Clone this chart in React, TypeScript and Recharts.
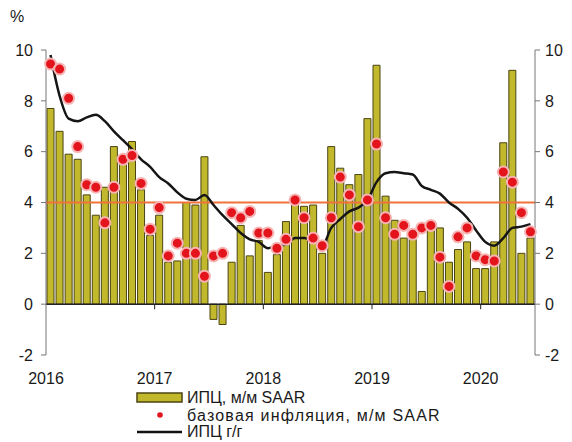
import React from "react";
import {
  ComposedChart,
  Bar,
  Line,
  Scatter,
  XAxis,
  YAxis,
  ReferenceLine,
  Legend,
} from "recharts";

// monthly, Jan 2016 .. Jun 2020
const yearStarts = [0, 12, 24, 36, 48];
const yearLabels = ["2016", "2017", "2018", "2019", "2020"];
const valueTicks = [-2, 0, 2, 4, 6, 8, 10];

// ИПЦ, м/м SAAR
const cpiMoM = [
  7.7, 6.8, 5.9, 5.7, 4.3, 3.5, 4.6, 6.2, 5.8, 6.4, 4.5, 2.7,
  3.5, 1.65, 1.7, 4.0, 3.9, 5.8, -0.6, -0.8, 1.65, 3.1, 1.9, 2.5,
  1.25, 1.95, 3.25, 3.95, 3.85, 3.9, 2.0, 6.2, 5.35, 4.7, 5.1, 7.3,
  9.4, 4.25, 3.3, 2.6, 2.55, 0.5, 2.9, 3.0, 1.65, 2.15, 2.45, 1.4,
  1.4, 2.45, 6.35, 9.2, 2.0, 2.6,
];

// базовая инфляция, м/м SAAR
const coreMoM = [
  9.45, 9.25, 8.1, 6.2, 4.7, 4.6, 3.2, 4.6, 5.7, 5.85, 4.75, 2.95,
  3.8, 1.9, 2.4, 2.0, 2.0, 1.1, 1.9, 2.0, 3.6, 3.4, 3.65, 2.8,
  2.8, 2.2, 2.55, 4.1, 3.4, 2.6, 2.3, 3.4, 5.0, 4.3, 3.05, 4.1,
  6.3, 3.4, 2.75, 3.1, 2.75, 3.0, 3.1, 1.85, 0.7, 2.65, 3.0, 1.9,
  1.75, 1.7, 5.2, 4.8, 3.6, 2.85,
];

// ИПЦ г/г
const cpiYoY = [
  9.8, 8.2, 7.3, 7.2, 7.35, 7.45, 7.2, 6.8, 6.45, 6.1, 5.7, 5.4,
  5.0, 4.75, 4.4, 4.15, 4.1, 4.3, 3.9, 3.5, 3.15, 2.8, 2.55, 2.45,
  2.2, 2.3, 2.35, 2.6, 2.6, 2.5, 2.3, 3.0, 3.35, 3.65, 3.8, 4.1,
  4.8, 5.15, 5.2, 5.15, 5.1, 4.65, 4.5, 4.35, 4.0, 3.75, 3.4, 2.9,
  2.45, 2.3, 2.6, 3.0, 3.05, 3.15,
];

const data = cpiMoM.map((v, i) => ({
  t: i + 0.5,
  cpi: v,
  core: coreMoM[i],
  yoy: cpiYoY[i],
}));

const BAR_FILL = "#c2b82c";
const BAR_STROKE = "#4a4414";
const DOT_FILL = "#e4141c";
const DOT_STROKE = "#f6b4b4";
const FONT = "'Liberation Sans', Arial, sans-serif";
const tickStyle = { fontSize: 16, fill: "#1a1a1a", fontFamily: FONT };

const RedDot = (props: any) => {
  const { cx, cy } = props;
  if (cx == null || cy == null) return null;
  return <circle cx={cx} cy={cy} r={5.5} fill={DOT_FILL} stroke={DOT_STROKE} strokeWidth={2} />;
};

const ChartLegend = () => (
  <svg
    width={340}
    height={48}
    style={{ fontFamily: FONT, fontSize: 16, display: "block", overflow: "visible" }}
  >
    <rect x={1} y={3} width={45} height={9} fill={BAR_FILL} stroke={BAR_STROKE} strokeWidth={1.5} />
    <text x={51} y={13} fill="#1a1a1a">ИПЦ, м/м SAAR</text>
    <circle cx={24} cy={25} r={2.8} fill={DOT_FILL} />
    <text x={51} y={31} fill="#1a1a1a" letterSpacing={1.2}>базовая инфляция, м/м SAAR</text>
    <line x1={1} x2={46} y1={42} y2={42} stroke="#111" strokeWidth={2.5} />
    <text x={51} y={47} fill="#1a1a1a">ИПЦ г/г</text>
  </svg>
);

export default function App() {
  return (
    <div style={{ position: "absolute", left: 0, top: 0, width: 572, height: 442, background: "#fff", overflow: "hidden" }}>
      <ComposedChart
        width={572}
        height={442}
        data={data}
        margin={{ top: 50, right: 0, left: 0, bottom: 57 }}
      >
        <XAxis
          dataKey="t"
          type="number"
          domain={[0, 54]}
          ticks={yearStarts}
          tickFormatter={(v: number) => yearLabels[yearStarts.indexOf(v)]}
          axisLine={false}
          tickLine={false}
          tickMargin={12}
          height={30}
          tick={tickStyle}
          interval={0}
        />
        <YAxis
          yAxisId="left"
          domain={[-2, 10]}
          ticks={valueTicks}
          width={46}
          tick={tickStyle}
          tickSize={5}
          tickMargin={8}
          stroke="#777"
          allowDataOverflow
          label={{ value: "%", position: "top", offset: 28, dx: -6, style: tickStyle }}
        />
        <YAxis
          yAxisId="right"
          orientation="right"
          domain={[-2, 10]}
          ticks={valueTicks}
          width={37}
          tick={tickStyle}
          tickSize={5}
          tickMargin={5}
          stroke="#777"
          allowDataOverflow
        />
        <Bar
          yAxisId="left"
          dataKey="cpi"
          barSize={7}
          fill={BAR_FILL}
          stroke={BAR_STROKE}
          strokeWidth={1}
          isAnimationActive={false}
        />
        <ReferenceLine yAxisId="left" y={4} stroke="#f0723a" strokeWidth={2} />
        <ReferenceLine yAxisId="left" y={0} stroke="#222" strokeWidth={1.5} />
        {yearStarts.slice(1).map((x) => (
          <ReferenceLine
            key={x}
            yAxisId="left"
            segment={[{ x, y: 0 }, { x, y: -0.2 }]}
            stroke="#222"
            strokeWidth={1}
          />
        ))}
        <Line
          yAxisId="left"
          dataKey="yoy"
          type="monotone"
          stroke="#151515"
          strokeWidth={2.5}
          dot={false}
          isAnimationActive={false}
        />
        <Scatter
          yAxisId="left"
          dataKey="core"
          shape={RedDot}
          isAnimationActive={false}
        />
        <Legend
          layout="vertical"
          align="center"
          verticalAlign="middle"
          wrapperStyle={{ top: 390, left: 136, width: 340 }}
          content={ChartLegend}
        />
      </ComposedChart>
    </div>
  );
}
